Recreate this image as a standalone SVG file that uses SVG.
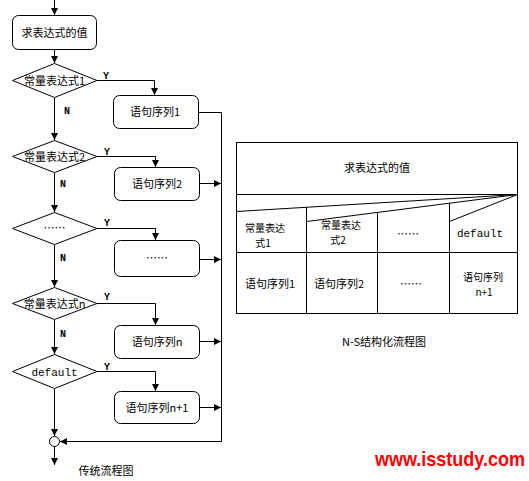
<svg xmlns="http://www.w3.org/2000/svg" width="529" height="481" viewBox="0 0 529 481">
<defs>
<marker id="ah" markerUnits="userSpaceOnUse" markerWidth="8" markerHeight="8" refX="7" refY="3.5" orient="auto">
<path d="M0,0 L7,3.5 L0,7 z" fill="#000"/>
</marker>
<style>
.ln{fill:none;stroke:#000;stroke-width:1}
.ar{fill:none;stroke:#000;stroke-width:1;marker-end:url(#ah)}
.bx{fill:#fff;stroke:#000;stroke-width:1}
.t{font-family:"Noto Sans CJK SC","Liberation Sans",sans-serif;font-size:11px;fill:#000;text-anchor:middle}
.t2{font-family:"Noto Sans CJK SC","Liberation Sans",sans-serif;font-size:10px;fill:#000;text-anchor:middle}
.m{font-family:"Liberation Mono",monospace;font-size:11px;fill:#000;text-anchor:middle}
.yn{font-family:"Liberation Mono",monospace;font-size:10px;font-weight:bold;fill:#000}
.wm{font-family:"Liberation Sans",sans-serif;font-size:20px;font-weight:bold;fill:#f00}
</style>
</defs>
<rect width="529" height="481" fill="#fff"/>
<g id="connectors">
<path class="ar" d="M54.5,0 V15"/>
<path class="ar" d="M54.5,50 V63"/>
<path class="ar" d="M97,80.5 H154.5 V95"/>
<path class="ar" d="M54.5,98 V140"/>
<path class="ar" d="M97,156.5 H155.5 V167"/>
<path class="ar" d="M199.5,183.5 H221"/>
<path class="ar" d="M54.5,173 V212"/>
<path class="ar" d="M97,228.5 H155.5 V240"/>
<path class="ar" d="M199.5,259.5 H221"/>
<path class="ar" d="M54.5,245 V287"/>
<path class="ar" d="M97,303.5 H155.5 V325"/>
<path class="ar" d="M199.5,341.5 H221"/>
<path class="ar" d="M54.5,320 V354"/>
<path class="ar" d="M97,371.5 H155.5 V391"/>
<path class="ar" d="M199.5,407.5 H221"/>
<path class="ar" d="M54.5,389 V436"/>
<path class="ar" d="M54.5,446 V465"/>
<path class="ar" d="M198.5,112.5 H221.5 V441.5 H60"/>
<text class="yn" x="103" y="79">Y</text>
<text class="yn" x="104" y="155">Y</text>
<text class="yn" x="104" y="226">Y</text>
<text class="yn" x="104" y="300">Y</text>
<text class="yn" x="104" y="370">Y</text>
<text class="yn" x="64" y="114">N</text>
<text class="yn" x="60" y="187">N</text>
<text class="yn" x="60" y="261">N</text>
<text class="yn" x="60" y="337">N</text>
</g>
<g id="start">
<rect class="bx" x="12.5" y="15.5" width="84" height="34" rx="6"/>
<text class="t" x="54.5" y="37">求表达式的值</text>
</g>
<g id="d1">
<polygon class="bx" points="12.5,80.5 54.5,63.5 97,80.5 54.5,97.5"/>
<text class="t" x="54.5" y="84.5">常量表达式1</text>
</g>
<g id="b1">
<rect class="bx" x="113.5" y="95.5" width="85" height="33" rx="6"/>
<text class="t" x="155" y="116">语句序列1</text>
</g>
<g id="d2">
<polygon class="bx" points="12.5,156.5 54.5,140.5 97,156.5 54.5,172.5"/>
<text class="t" x="54.5" y="160.5">常量表达式2</text>
</g>
<g id="b2">
<rect class="bx" x="114.5" y="167.5" width="85" height="33" rx="6"/>
<text class="t" x="157" y="188">语句序列2</text>
</g>
<g id="d3">
<polygon class="bx" points="12.5,228.5 54.5,212.5 97,228.5 54.5,244.5"/>
<text class="t" x="54.5" y="232">……</text>
</g>
<g id="b3">
<rect class="bx" x="114.5" y="240.5" width="85" height="36" rx="6"/>
<text class="t" x="157" y="262">……</text>
</g>
<g id="d4">
<polygon class="bx" points="12.5,303.5 54.5,287.5 97,303.5 54.5,319.5"/>
<text class="t" x="54.5" y="307.5">常量表达式n</text>
</g>
<g id="b4">
<rect class="bx" x="114.5" y="325.5" width="85" height="33" rx="6"/>
<text class="t" x="157" y="346">语句序列n</text>
</g>
<g id="d5">
<polygon class="bx" points="12.5,371.5 54.5,354.5 97,371.5 54.5,388.5"/>
<text class="m" x="54.5" y="375.5">default</text>
</g>
<g id="b5">
<rect class="bx" x="114.5" y="391.5" width="85" height="32" rx="6"/>
<text class="t" x="157" y="411.5">语句序列n+1</text>
</g>
<g id="join">
<circle class="bx" cx="54.5" cy="441.5" r="5"/>
</g>
<text class="t" x="106" y="475">传统流程图</text>
<g id="ns">
<rect class="ln" x="236.5" y="142.5" width="281" height="171"/>
<line class="ln" x1="236.5" y1="194.5" x2="517.5" y2="194.5"/>
<line class="ln" x1="236.5" y1="211.5" x2="517.5" y2="194.5"/>
<line class="ln" x1="306.5" y1="221.5" x2="517.5" y2="194.5"/>
<line class="ln" x1="449.5" y1="221.5" x2="517.5" y2="194.5"/>
<line class="ln" x1="306.5" y1="207" x2="306.5" y2="313.5"/>
<line class="ln" x1="377.5" y1="212" x2="377.5" y2="313.5"/>
<line class="ln" x1="449.5" y1="203" x2="449.5" y2="313.5"/>
<line class="ln" x1="236.5" y1="252.5" x2="517.5" y2="252.5"/>
<text class="t" x="377" y="172">求表达式的值</text>
<text class="t2" x="265" y="232">常量表达</text>
<text class="t2" x="263" y="247">式1</text>
<text class="t2" x="341" y="229">常量表达</text>
<text class="t2" x="338" y="244">式2</text>
<text class="t" x="408" y="238">……</text>
<text class="m" x="480" y="237">default</text>
<text class="t" x="270" y="288">语句序列1</text>
<text class="t" x="339" y="288">语句序列2</text>
<text class="t" x="411" y="288">……</text>
<text class="t2" x="483" y="281">语句序列</text>
<text class="t2" x="484" y="296">n+1</text>
<text class="t" x="384" y="346">N-S结构化流程图</text>
</g>
<text class="wm" transform="translate(375,466) scale(0.9,1)" x="0" y="0">www.isstudy.com</text>
</svg>
